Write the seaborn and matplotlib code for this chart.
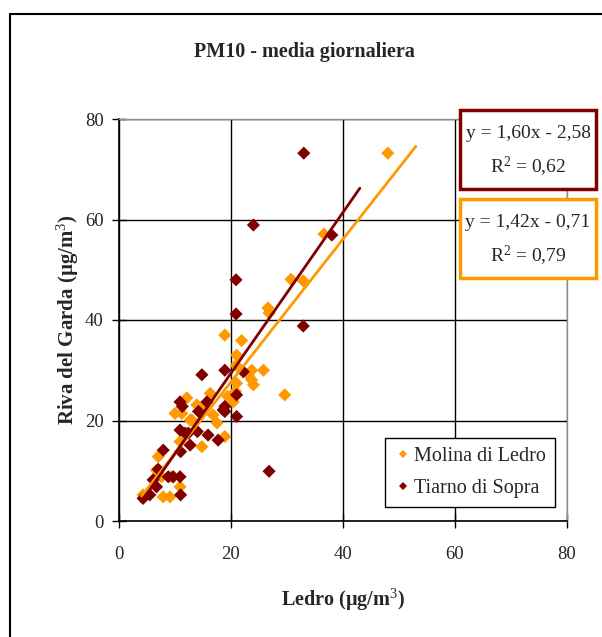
import seaborn as sns
import pandas as pd
import numpy as np
from matplotlib import pyplot as plt
from matplotlib.patches import Rectangle
from matplotlib.lines import Line2D

sns.set_theme(style="white")
plt.rcParams['font.family'] = ['Liberation Serif', 'DejaVu Serif']
plt.rcParams['mathtext.fontset'] = 'custom'
plt.rcParams['mathtext.rm'] = 'Liberation Serif'
plt.rcParams['mathtext.it'] = 'Liberation Serif:italic'
plt.rcParams['mathtext.bf'] = 'Liberation Serif:bold'

# Molina di Ledro
molina_x = [48.0, 36.6, 30.7, 32.9, 26.6, 26.8, 18.9, 21.9, 21.0, 20.9, 23.7, 25.8,
            23.1, 23.7, 24.0, 29.6, 21.0, 20.8, 19.4, 20.4, 20.4, 18.9, 14.8, 16.8,
            16.3, 13.9, 12.7, 13.0, 10.0, 11.2, 12.1, 10.9, 7.0, 6.7, 7.6, 9.4,
            10.9, 7.9, 9.1, 4.3, 15.5, 17.5]
molina_y = [73.2, 57.1, 48.1, 47.8, 42.4, 41.4, 37.0, 35.9, 33.0, 31.0, 30.0, 30.0,
            29.1, 28.1, 27.1, 25.1, 27.4, 25.8, 24.8, 23.7, 25.1, 16.8, 14.8, 21.1,
            25.4, 23.1, 20.1, 20.1, 21.4, 21.4, 24.5, 15.8, 12.8, 10.1, 8.8, 8.8,
            6.8, 4.8, 4.8, 5.2, 22.5, 19.5]

# Tiarno di Sopra
tiarno_x = [33.0, 24.0, 38.0, 20.9, 20.9, 32.9, 18.9, 14.8, 22.2, 21.0, 21.0, 18.9,
            18.9, 17.7, 15.9, 14.0, 12.7, 26.8, 15.7, 14.2, 10.9, 11.3, 10.9, 11.8,
            12.4, 11.0, 7.9, 7.0, 8.8, 9.7, 10.9, 6.1, 6.7, 5.5, 4.3, 11.0, 18.6]
tiarno_y = [73.2, 58.9, 56.9, 48.0, 41.2, 38.8, 30.0, 29.1, 29.7, 25.1, 20.8, 22.8,
            21.8, 16.1, 17.1, 17.8, 15.1, 9.9, 23.7, 21.8, 23.7, 22.8, 18.1, 17.5,
            17.5, 13.8, 14.1, 10.3, 8.8, 8.8, 8.8, 8.2, 6.8, 5.2, 4.5, 5.2, 22.1]

series_names = ["Molina di Ledro", "Tiarno di Sopra"]
series_colors = ["#FF9900", "#800000"]

# trend lines (Excel)
trend_slope = [1.42, 1.60]
trend_intercept = [-0.71, -2.58]
trend_x_range = [(4.0, 53.0), (4.0, 43.0)]
trend_labels = [("y = 1,42x - 0,71", "R$^2$ = 0,79"),
                ("y = 1,60x - 2,58", "R$^2$ = 0,62")]

df = pd.concat([
    pd.DataFrame({"x": molina_x, "y": molina_y, "site": series_names[0]}),
    pd.DataFrame({"x": tiarno_x, "y": tiarno_y, "site": series_names[1]}),
], ignore_index=True)

fig = plt.figure(figsize=(6.02, 6.37), dpi=100)
ax = fig.add_axes([119/602, 1-521/637, 448/602, 402/637])

sns.scatterplot(data=df, x="x", y="y", hue="site", palette=series_colors,
                marker="D", s=45, linewidth=0, ax=ax, zorder=3)

for i in range(2):
    tx = np.array(trend_x_range[i])
    ty = trend_slope[i] * tx + trend_intercept[i]
    sns.lineplot(x=tx, y=ty, color=series_colors[i], linewidth=2, ax=ax,
                 legend=False, zorder=4)

ax.set_xlim(0, 80)
ax.set_ylim(0, 80)
ax.set_xticks([0, 20, 40, 60, 80])
ax.set_yticks([0, 20, 40, 60, 80])
ax.grid(True, color="black", linewidth=1)
ax.set_axisbelow(True)
for side in ["left", "bottom"]:
    ax.spines[side].set_color("black")
    ax.spines[side].set_linewidth(1.2)
for side in ["top", "right"]:
    ax.spines[side].set_color("#909090")
    ax.spines[side].set_linewidth(1)
ax.tick_params(direction="inout", length=10, width=1, color="black",
               labelsize=13.5, bottom=True, left=True)
ax.tick_params(axis="x", pad=13)
ax.tick_params(axis="y", pad=6)

ax.set_xlabel("Ledro (µg/m$^3$)", fontsize=14.5, fontweight="bold", labelpad=17)
ax.set_ylabel("Riva del Garda (µg/m$^3$)", fontsize=15, fontweight="bold", labelpad=3)

handles, labels = ax.get_legend_handles_labels()
leg = ax.legend(handles, labels, loc="lower right", bbox_to_anchor=(0.973, 0.035),
                borderaxespad=0, fancybox=False, framealpha=1, edgecolor="black",
                fontsize=14.5, handletextpad=0.1, handlelength=0.9,
                labelspacing=0.65, borderpad=0.45, markerscale=0.65)
leg.get_frame().set_linewidth(1)

fig.text(0.505, 1-52/637, "PM10 - media giornaliera", ha="center", va="center",
         fontsize=14.5, fontweight="bold")

# equation boxes
box_tops = [198, 109]
for i in range(2):
    top = box_tops[i]
    fig.add_artist(Rectangle((460/602, 1-(top+80)/637), 136/602, 79/637,
                             transform=fig.transFigure, facecolor="white",
                             edgecolor=series_colors[i], linewidth=2.5))
    fig.text(528/602, 1-(top+24)/637, trend_labels[i][0], ha="center", va="center",
             fontsize=14)
    fig.text(528/602, 1-(top+58)/637, trend_labels[i][1], ha="center", va="center",
             fontsize=14)

# outer frame
fig.add_artist(Line2D([10/602, 10/602], [0, 1-14/637], color="black", linewidth=1.5,
                      transform=fig.transFigure))
fig.add_artist(Line2D([10/602, 1], [1-14/637, 1-14/637], color="black", linewidth=1.5,
                      transform=fig.transFigure))

fig.savefig("out.png", dpi=100)
